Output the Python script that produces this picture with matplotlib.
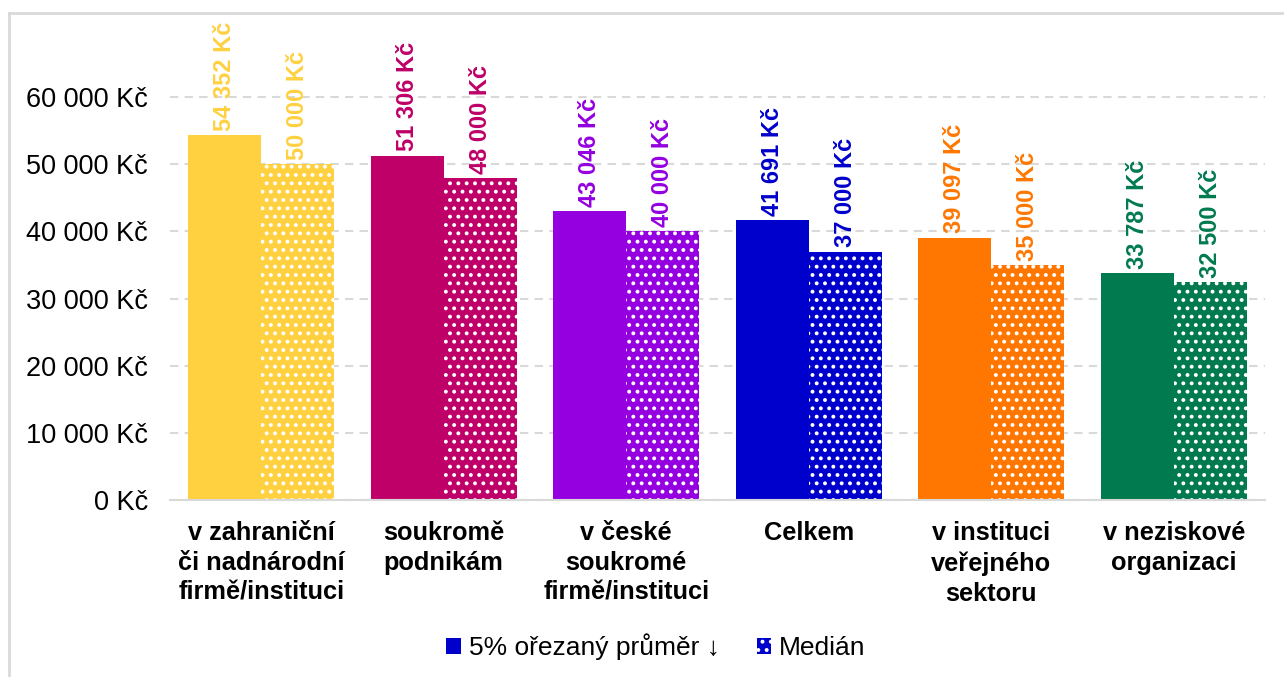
import matplotlib.pyplot as plt
import numpy as np
from matplotlib.lines import Line2D
from matplotlib.patches import Patch

# data
categories = ['v zahraniční\nči nadnárodní\nfirmě/instituci', 'soukromě\npodnikám',
              'v české\nsoukromé\nfirmě/instituci', 'Celkem',
              'v instituci\nveřejného\nsektoru', 'v neziskové\norganizaci']
trimmed_mean = [54352, 51306, 43046, 41691, 39097, 33787]
median = [50000, 48000, 40000, 37000, 35000, 32500]
colors = ['#FFD03F', '#BE0068', '#9400E0', '#0000CC', '#FF7700', '#007A4E']
yticks = [0, 10000, 20000, 30000, 40000, 50000, 60000]

def kc(v):
    return '{:,}'.format(v).replace(',', ' ') + ' Kč'

plt.rcParams['font.family'] = ['Liberation Sans', 'DejaVu Sans']
plt.rcParams['hatch.linewidth'] = 1.6

fig = plt.figure(figsize=(12.84, 6.77), dpi=100)
ax = fig.add_axes([170/1284, 1-500/677, 1095/1284, 480/677])

x = np.arange(len(categories))
w = 0.4
b1 = ax.bar(x - w/2, trimmed_mean, w, color=colors, linewidth=0, zorder=3)
b2 = ax.bar(x + w/2, median, w, color=colors, edgecolor='white', linewidth=0,
            hatch='..', zorder=3)

for i in range(len(categories)):
    ax.annotate(kc(trimmed_mean[i]), (x[i] - w/2, trimmed_mean[i]), xytext=(0, 3),
                textcoords='offset points', rotation=90, ha='center', va='bottom',
                fontsize=17, fontweight='bold', color=colors[i])
    ax.annotate(kc(median[i]), (x[i] + w/2, median[i]), xytext=(0, 3),
                textcoords='offset points', rotation=90, ha='center', va='bottom',
                fontsize=17, fontweight='bold', color=colors[i])

ax.set_xlim(-0.5, len(categories) - 0.5)
ax.set_ylim(0, 71500)
ax.set_yticks(yticks)
ax.set_yticklabels([kc(v) for v in yticks], fontsize=19.5)
ax.set_xticks(x)
ax.set_xticklabels(categories, fontsize=18.3, fontweight='bold', linespacing=1.32, va='top')
ax.tick_params(axis='y', length=0, pad=16)
ax.tick_params(axis='x', length=0, pad=15)
ax.grid(axis='y', color='#D9D9D9', linestyle=(0, (4, 3)), linewidth=1.5, zorder=0)
for s in ['top', 'right', 'left']:
    ax.spines[s].set_visible(False)
ax.spines['bottom'].set_color('#D9D9D9')
ax.spines['bottom'].set_linewidth(1.5)
ax.spines['bottom'].set_zorder(4)

handles = [Patch(facecolor='#0000CC', linewidth=0),
           Patch(facecolor='#0000CC', edgecolor='white', linewidth=0, hatch='..')]
fig.legend(handles, ['5% ořezaný průměr ↓', 'Medián'], loc='center',
           bbox_to_anchor=(656/1284, 1-647/677), ncol=2, frameon=False,
           fontsize=19, handlelength=0.55, handleheight=0.55, handletextpad=0.3,
           columnspacing=1.4)

# chart area frame
fig.add_artist(Line2D([9/1284, 9/1284], [0, 1-13/677], color='#D9D9D9', linewidth=2))
fig.add_artist(Line2D([9/1284, 1], [1-13/677, 1-13/677], color='#D9D9D9', linewidth=2))

fig.savefig('out.png', dpi=100)
